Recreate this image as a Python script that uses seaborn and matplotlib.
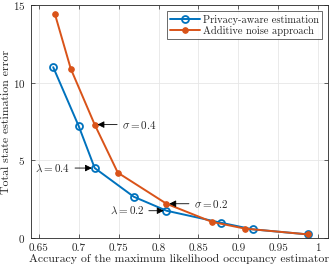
import pandas as pd
import matplotlib
matplotlib.use('Agg')
import matplotlib.pyplot as plt
import seaborn as sns

# data
acc_priv = [0.668, 0.70, 0.72, 0.769, 0.81, 0.878, 0.918, 0.988]
err_priv = [11.0, 7.2, 4.5, 2.65, 1.75, 0.98, 0.55, 0.22]
acc_noise = [0.670, 0.69, 0.72, 0.749, 0.81, 0.867, 0.908, 0.988]
err_noise = [14.45, 10.9, 7.3, 4.2, 2.2, 1.03, 0.6, 0.22]

blue = '#0072BD'
orange = '#D95319'

sns.set_style('ticks')
plt.rcParams['font.family'] = ['cmr10', 'DejaVu Serif']
plt.rcParams['mathtext.fontset'] = 'cm'
plt.rcParams['axes.formatter.use_mathtext'] = True

df1 = pd.DataFrame({'acc': acc_priv, 'err': err_priv})
df2 = pd.DataFrame({'acc': acc_noise, 'err': err_noise})

fig = plt.figure(figsize=(3.32, 2.70), dpi=100)
ax = fig.add_axes([0.093, 0.119, 0.895, 0.862])

sns.lineplot(data=df1, x='acc', y='err', ax=ax, color=blue, lw=1.4,
             marker='o', markersize=5, markerfacecolor='none',
             markeredgecolor=blue, markeredgewidth=1.3,
             label='Privacy-aware estimation', sort=False)
sns.lineplot(data=df2, x='acc', y='err', ax=ax, color=orange, lw=1.4,
             marker='o', markersize=4, markerfacecolor=orange,
             markeredgecolor=orange, label='Additive noise approach', sort=False)

ax.set_xlim(0.64, 1.0125)
ax.set_ylim(0, 15)
ax.set_xticks([0.65, 0.7, 0.75, 0.8, 0.85, 0.9, 0.95, 1])
ax.set_xticklabels(['0.65', '0.7', '0.75', '0.8', '0.85', '0.9', '0.95', '1'])
ax.set_yticks([0, 5, 10, 15])
ax.grid(True, color='#e6e6e6', lw=0.6)
ax.tick_params(direction='in', top=True, right=True, length=3, width=0.5,
               labelsize=8, colors='#262626', pad=4)
for s in ax.spines.values():
    s.set_linewidth(0.6)
    s.set_color('#262626')
ax.set_xlabel('Accuracy of the maximum likelihood occupancy estimator', fontsize=8.5, labelpad=1)
ax.set_ylabel('Total state estimation error', fontsize=8.5, labelpad=1)

leg = ax.legend(loc='upper right', fontsize=7.5, frameon=True, fancybox=False,
                borderpad=0.3, handlelength=2.8, handletextpad=0.3,
                labelspacing=0.15, borderaxespad=0.6)
leg.get_frame().set_edgecolor('#262626')
leg.get_frame().set_linewidth(0.6)

arrow = dict(arrowstyle='-|>', color='k', lw=0.6, mutation_scale=10,
             shrinkA=1, shrinkB=2)
ax.annotate(r'$\sigma = 0.4$', xy=(acc_noise[2], err_noise[2]), xytext=(0.754, err_noise[2]),
            ha='left', va='center', fontsize=8, arrowprops=arrow)
ax.annotate(r'$\lambda = 0.4$', xy=(acc_priv[2], err_priv[2]), xytext=(0.6895, err_priv[2]),
            ha='right', va='center', fontsize=8, arrowprops=arrow)
ax.annotate(r'$\lambda = 0.2$', xy=(acc_priv[4], err_priv[4]), xytext=(0.782, err_priv[4]),
            ha='right', va='center', fontsize=8, arrowprops=arrow)
ax.annotate(r'$\sigma = 0.2$', xy=(acc_noise[4], err_noise[4]), xytext=(0.844, err_noise[4]),
            ha='left', va='center', fontsize=8, arrowprops=arrow)

fig.savefig('out.png', dpi=100)
